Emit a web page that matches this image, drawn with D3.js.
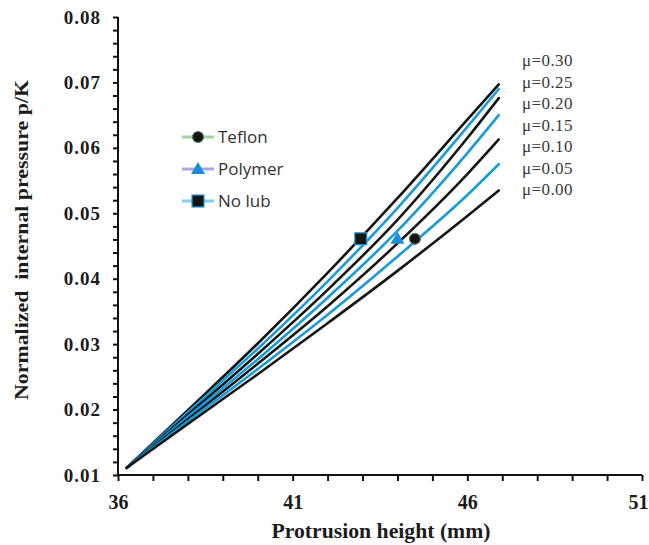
<!DOCTYPE html>
<html>
<head>
  <meta charset="utf-8">
  <script src="https://cdnjs.cloudflare.com/ajax/libs/d3/7.8.5/d3.min.js"></script>
  <style>
    body { margin: 0; background: #fff; }
    .axis path, .axis line { fill: none; stroke: #111; }
    .axis text { font-family: "Liberation Serif", "DejaVu Serif", serif; font-weight: bold; fill: #1c1c1c; }
  </style>
</head>
<body>
  <div id="chart"></div>
  <script>
    // protrusion height (mm) sample points shared by all curves
    var heights = [36.25, 38, 40, 42, 44, 46, 46.9];

    // friction coefficients, top curve first
    var frictionLabels = ["\u03bc=0.30", "\u03bc=0.25", "\u03bc=0.20", "\u03bc=0.15", "\u03bc=0.10", "\u03bc=0.05", "\u03bc=0.00"];

    // normalized internal pressure p/K for each friction coefficient
    var mu030 = [0.0111, 0.0199, 0.0301, 0.0409, 0.0523, 0.0643, 0.0697];
    var mu025 = [0.0111, 0.0196, 0.0293, 0.0396, 0.0508, 0.0632, 0.0690];
    var mu020 = [0.0111, 0.0192, 0.0285, 0.0383, 0.0490, 0.0615, 0.0676];
    var mu015 = [0.0111, 0.0189, 0.0277, 0.0371, 0.0473, 0.0592, 0.0650];
    var mu010 = [0.0111, 0.0185, 0.0270, 0.0358, 0.0454, 0.0560, 0.0613];
    var mu005 = [0.0111, 0.0182, 0.0262, 0.0345, 0.0434, 0.0528, 0.0575];
    var mu000 = [0.0111, 0.0178, 0.0254, 0.0332, 0.0412, 0.0496, 0.0535];
    var curves = [mu030, mu025, mu020, mu015, mu010, mu005, mu000];

    // experimental points
    var lubricants = ["Teflon", "Polymer", "No lub"];
    var expHeight = [44.5, 44.0, 42.95];
    var expPressure = [0.0461, 0.0461, 0.0461];

    var xTicks = [36, 41, 46, 51];
    var yTicks = [0.01, 0.02, 0.03, 0.04, 0.05, 0.06, 0.07, 0.08];

    var svgWidth = 649, svgHeight = 545;
    var plotLeft = 118, plotRight = 642, plotTop = 17, plotBottom = 475;

    var svg = d3.select("#chart").append("svg")
      .attr("width", svgWidth)
      .attr("height", svgHeight);

    var x = d3.scaleLinear().domain([36, 51]).range([plotLeft, plotRight]);
    var y = d3.scaleLinear().domain([0.01, 0.08]).range([plotBottom, plotTop]);

    // axes with minor ticks
    var xMinor = d3.range(36, 51.01, 1);
    var yMinor = d3.range(0, 36).map(function(i) { return +(0.01 + i * 0.002).toFixed(3); });

    var xAxis = svg.append("g")
      .attr("class", "axis")
      .attr("transform", "translate(0," + plotBottom + ")")
      .call(d3.axisBottom(x).tickValues(xMinor).tickSize(6).tickPadding(12)
        .tickFormat(function(d) { return xTicks.indexOf(d) >= 0 ? d : ""; }));
    xAxis.select(".domain").attr("d", "M" + plotLeft + ",0H" + plotRight).attr("stroke-width", 2);
    xAxis.selectAll("line").attr("stroke-width", 2);
    xAxis.selectAll("text").style("font-size", "20px").attr("dy", "0.8em");
    xAxis.selectAll("text").filter(function(d) { return d === 51; }).attr("dx", "-4");

    var yAxis = svg.append("g")
      .attr("class", "axis")
      .attr("transform", "translate(" + plotLeft + ",0)")
      .call(d3.axisLeft(y).tickValues(yMinor).tickSize(5).tickPadding(12)
        .tickFormat(function(d) {
          return yTicks.some(function(t) { return Math.abs(t - d) < 1e-6; }) ? d3.format(".2f")(d) : "";
        }));
    yAxis.select(".domain").attr("d", "M0," + plotBottom + "V" + plotTop).attr("stroke-width", 2);
    yAxis.selectAll("line").attr("stroke-width", 2);
    yAxis.selectAll("text").style("font-size", "19px").style("letter-spacing", "1px");

    // axis titles
    svg.append("text")
      .attr("x", 381)
      .attr("y", 538)
      .attr("text-anchor", "middle")
      .attr("textLength", 219)
      .attr("lengthAdjust", "spacingAndGlyphs")
      .style("font-family", "Liberation Serif, serif")
      .style("font-weight", "bold")
      .style("font-size", "20px")
      .style("fill", "#1c1c1c")
      .text("Protrusion height (mm)");

    svg.append("text")
      .attr("transform", "translate(28,240) rotate(-90)")
      .attr("text-anchor", "middle")
      .attr("textLength", 320)
      .attr("lengthAdjust", "spacingAndGlyphs")
      .style("font-family", "Liberation Serif, serif")
      .style("font-weight", "bold")
      .style("font-size", "19px")
      .style("fill", "#1c1c1c")
      .style("white-space", "pre")
      .text("Normalized  internal pressure p/K");

    // theoretical curves
    var line = d3.line()
      .x(function(d, i) { return x(heights[i]); })
      .y(function(d) { return y(d); })
      .curve(d3.curveMonotoneX);

    svg.selectAll(".curve")
      .data(curves)
      .enter().append("path")
      .attr("class", "curve")
      .attr("d", line)
      .attr("fill", "none")
      .attr("stroke", function(d, i) { return i % 2 === 0 ? "#151515" : "#1a9ad8"; })
      .attr("stroke-width", 2.6)
      .attr("stroke-linecap", "round");

    // curve labels
    svg.selectAll(".mu")
      .data(frictionLabels)
      .enter().append("text")
      .attr("class", "mu")
      .attr("x", 522)
      .attr("y", function(d, i) { return 66 + i * 21.5; })
      .style("font-family", "Liberation Serif, serif")
      .style("font-size", "17px")
      .style("letter-spacing", "0.4px")
      .style("fill", "#3a3a3a")
      .text(function(d) { return d; });

    // marker drawing
    function drawMarker(g, kind, cx, cy) {
      if (kind === 0) {
        g.append("circle").attr("cx", cx).attr("cy", cy).attr("r", 5.5)
          .attr("fill", "#151515").attr("stroke", "#5a7a6a").attr("stroke-width", 1.2);
      } else if (kind === 1) {
        g.append("path")
          .attr("d", d3.symbol().type(d3.symbolTriangle).size(85)())
          .attr("transform", "translate(" + cx + "," + (cy + 1) + ")")
          .attr("fill", "#1a8fd8");
      } else {
        g.append("rect").attr("x", cx - 6).attr("y", cy - 6).attr("width", 12).attr("height", 12)
          .attr("fill", "#151515").attr("stroke", "#2a9ad8").attr("stroke-width", 1.2);
      }
    }

    var marks = svg.append("g");
    expHeight.forEach(function(h, i) {
      drawMarker(marks, i, x(h), y(expPressure[i]));
    });

    // legend
    var legendColors = ["#9fd4a0", "#a9a6e2", "#7fd0f2"];
    var legendY = [137, 169, 201];
    var legend = svg.append("g");
    lubricants.forEach(function(name, i) {
      legend.append("line")
        .attr("x1", 182).attr("x2", 214)
        .attr("y1", legendY[i]).attr("y2", legendY[i])
        .attr("stroke", legendColors[i]).attr("stroke-width", 3);
      drawMarker(legend, i, 198, legendY[i]);
      legend.append("text")
        .attr("x", 218)
        .attr("y", legendY[i] + 6)
        .style("font-family", "Open Sans, Noto Sans, sans-serif")
        .style("font-size", "17px")
        .style("fill", "#333")
        .text(name);
    });
  </script>
</body>
</html>
